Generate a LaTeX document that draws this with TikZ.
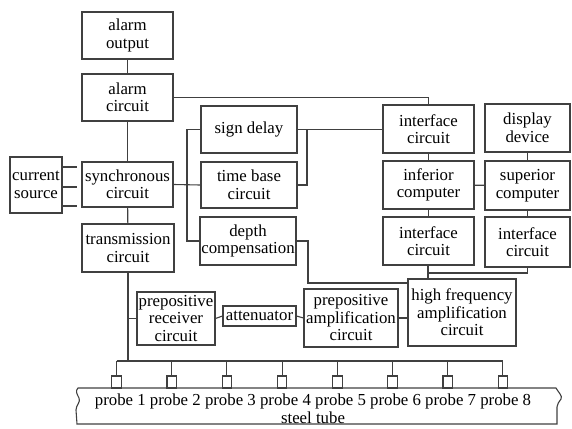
\documentclass[tikz,border=0pt]{standalone}
\usepackage{fontspec}
\setmainfont{Liberation Serif}
\usetikzlibrary{positioning}

\tikzstyle{block} = [draw=black!75,line width=1.1pt,rectangle,align=center,inner sep=0pt,font=\fontsize{16.8}{17.5}\selectfont]
\tikzstyle{wire} = [draw=black!75,line width=1.1pt]
\tikzstyle{probebox} = [draw=black!75,line width=1.1pt,rectangle,minimum width=9.5pt,minimum height=12pt,inner sep=0pt]

\begin{document}
\begin{tikzpicture}[x=1pt,y=-1pt]
	\useasboundingbox (0,0) rectangle (572,428);

	% left column
	\node[block,minimum width=91pt,minimum height=47pt] (aout) at (127.5,35.5) {alarm\\output};
	\node[block,minimum width=91pt,minimum height=47pt] (acirc) at (127.5,97.5) {alarm\\circuit};
	\node[block,minimum width=91pt,minimum height=45pt] (sync) at (127.5,184.5) {synchronous\\circuit};
	\node[block,minimum width=92pt,minimum height=48pt] (trans) at (128,248) {transmission\\circuit};
	\node[block,minimum width=52pt,minimum height=56pt] (cur) at (36,185) {current\\source};

	% middle column
	\node[block,minimum width=96pt,minimum height=47pt] (sdelay) at (249,129.5) {sign delay};
	\node[block,minimum width=96pt,minimum height=46pt] (tbase) at (249,185) {time base\\circuit};
	\node[block,minimum width=96pt,minimum height=48pt] (depth) at (248,241) {depth\\compensation};

	% computer side
	\node[block,minimum width=91pt,minimum height=48pt] (ifca) at (428.5,129) {interface\\circuit};
	\node[block,minimum width=85pt,minimum height=48pt] (disp) at (527.5,128) {display\\device};
	\node[block,minimum width=91pt,minimum height=48pt] (inf) at (428.5,185) {inferior\\computer};
	\node[block,minimum width=85pt,minimum height=49pt] (sup) at (527.5,185.5) {superior\\computer};
	\node[block,minimum width=91pt,minimum height=48pt] (ifcb) at (428.5,241) {interface\\circuit};
	\node[block,minimum width=85pt,minimum height=50pt] (ifcc) at (527.5,242) {interface\\circuit};

	% receiving chain
	\node[block,minimum width=78pt,minimum height=53pt] (recv) at (176,318.5) {prepositive\\receiver\\circuit};
	\node[block,minimum width=73pt,minimum height=20pt] (atten) at (259.5,316) {attenuator};
	\node[block,minimum width=94pt,minimum height=58pt] (pamp) at (351,318) {prepositive\\amplification\\circuit};
	\node[block,minimum width=108pt,minimum height=67pt] (hf) at (462,312.5) {high frequency\\amplification\\circuit};

	% junction points
	\coordinate (busx) at (187,185);
	\coordinate (jt) at (307,129.5);
	\coordinate (jd) at (308,283);
	\coordinate (jh) at (428,273);
	\coordinate (bus) at (128,361);

	\draw[wire] (aout) -- (acirc);
	\draw[wire] (acirc) -- (sync);
	\draw[wire] (sync) -- (trans);
	\draw[wire] (acirc.east) -| (ifca.north);
	\draw[wire] (sync.east) -- (tbase.west);
	\draw[wire] (sdelay.west) -| (busx) |- (depth.west);
	\draw[wire] (sdelay.east) -- (sdelay.east -| ifca.west);
	\draw[wire] (tbase.east) -| (jt);
	\draw[wire] (ifca) -- (inf);
	\draw[wire] (disp) -- (sup);
	\draw[wire] (inf) -- (sup);
	\draw[wire] (inf) -- (ifcb);
	\draw[wire] (sup) -- (ifcc);
	\draw[wire] (ifcb.south -| jh) -- (jh |- hf.north);
	\draw[wire] (ifcc.south) |- (jh);
	\draw[wire] (depth.east) -| (jd) -- (jd -| hf.west);
	\draw[wire] (recv.west) -- (recv.west -| trans.south);
	\draw[wire] (recv.east) -- (atten.west);
	\draw[wire] (atten.east) -- (pamp.west);
	\draw[wire] (pamp.east) -- (pamp.east -| hf.west);
	\draw[wire] (trans.south) -- (bus);

	% current source outputs
	\foreach \y in {167,187,206} {
		\coordinate (c\y) at (77,\y);
		\draw[wire] (cur.east |- c\y) -- (c\y);
		\draw[black!75,line width=2.2pt] (c\y) ++(-10,0) -- (c\y);
	}

	% probes
	\foreach \i in {1,...,8} {
		\node[probebox] (p\i) at ({116.5+55.2*(\i-1)},382) {};
		\draw[wire] (p\i.north) -- (p\i.north |- bus);
	}
	\draw[wire] (p1.north |- bus) -- (p8.north |- bus);

	% steel tube
	\draw[wire] (78,388) -- (556,388) .. controls (558,392) and (563,396) .. (561,399) .. controls (559,402) and (557,404) .. (557,407) -- (557,424) -- (77,424) -- (76,410) .. controls (76,405) and (81,402) .. (79,398) .. controls (77,394) and (75,391) .. cycle;
	\node[align=center,inner sep=0pt,font=\fontsize{16.8}{18}\selectfont] (tube) at (313,409) {probe 1 probe 2 probe 3 probe 4 probe 5 probe 6 probe 7 probe 8\\steel tube};
\end{tikzpicture}
\end{document}
